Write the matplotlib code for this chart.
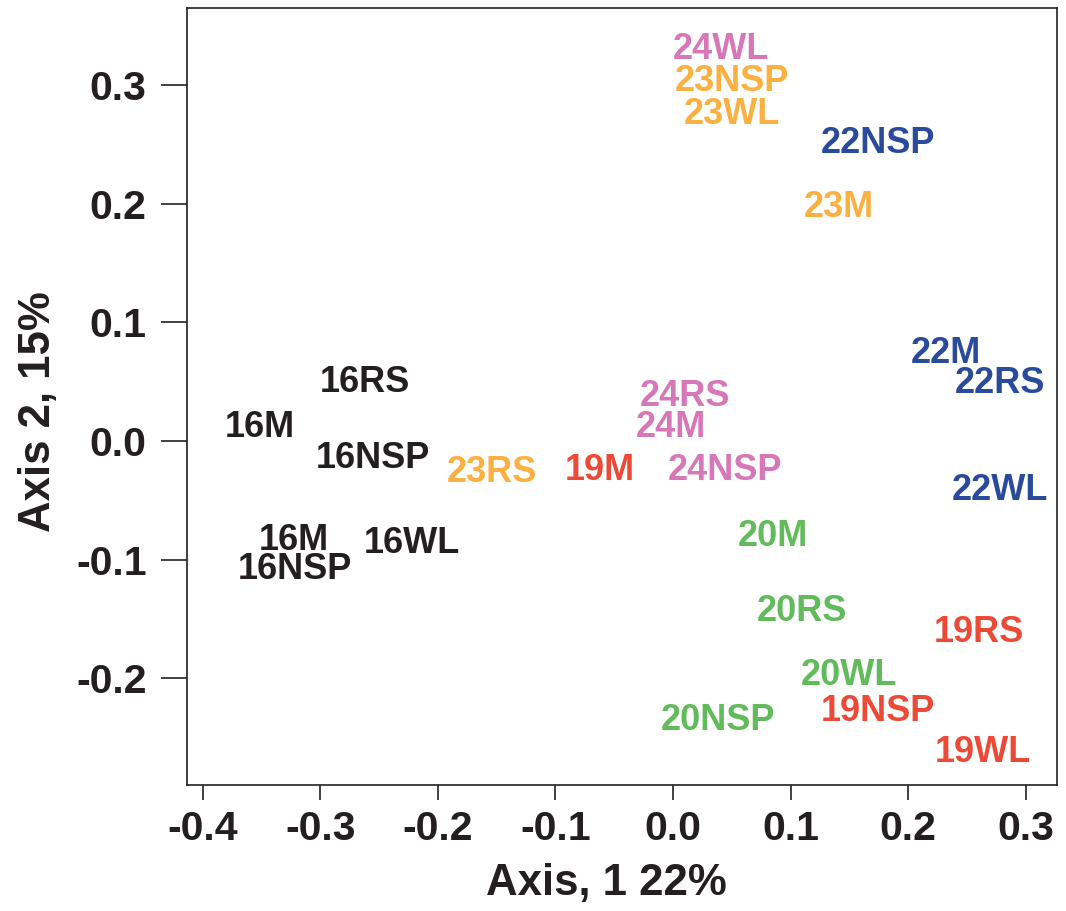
import matplotlib
matplotlib.use("Agg")
import matplotlib.pyplot as plt
from matplotlib.transforms import offset_copy

plt.rcParams['font.family'] = ['Liberation Sans', 'DejaVu Sans']
plt.rcParams['font.weight'] = 'bold'

# sample labels and their ordination scores (axis 1, axis 2)
labels = ["16RS", "16M", "16NSP", "16M", "16NSP", "16WL",
          "24WL", "23NSP", "23WL", "22NSP", "23M",
          "22M", "22RS", "22WL",
          "23RS", "19M", "24RS", "24M", "24NSP",
          "20M", "20RS", "19RS", "20WL", "19NSP", "20NSP", "19WL"]
axis1 = [-0.262, -0.352, -0.255, -0.323, -0.322, -0.222,
         0.041, 0.050, 0.050, 0.174, 0.141,
         0.232, 0.278, 0.278,
         -0.154, -0.062, 0.010, -0.002, 0.044,
         0.085, 0.110, 0.260, 0.150, 0.174, 0.038, 0.264]
axis2 = [0.052, 0.014, -0.012, -0.081, -0.106, -0.084,
         0.332, 0.305, 0.278, 0.253, 0.199,
         0.076, 0.051, -0.039,
         -0.024, -0.022, 0.040, 0.014, -0.022,
         -0.078, -0.141, -0.159, -0.195, -0.225, -0.233, -0.260]
groups = ["16"] * 6 + ["24", "23", "23", "22", "23"] + ["22"] * 3 + \
         ["23", "19", "24", "24", "24"] + ["20", "20", "19", "20", "19", "20", "19"]

colors = {"16": "#231f20", "19": "#ec4a36", "20": "#61bb5b",
          "22": "#2a4b9b", "23": "#fbb040", "24": "#d877b8"}

fig = plt.figure(figsize=(10.66, 9.11), dpi=100)
ax = fig.add_axes([0.1754, 0.1383, 0.8162, 0.8529])

# nudge so the cap height (not the full text box) is centred on the point
trans = offset_copy(ax.transData, fig=fig, x=0, y=-3, units='dots')
for lab, x, y, g in zip(labels, axis1, axis2, groups):
    ax.text(x, y, lab, color=colors[g], fontsize=26, fontweight='bold',
            ha='center', va='center', transform=trans)

ax.set_xlim(-0.4136, 0.3268)
ax.set_ylim(-0.2898, 0.3648)
ax.set_xticks([-0.4, -0.3, -0.2, -0.1, 0.0, 0.1, 0.2, 0.3])
ax.set_yticks([-0.2, -0.1, 0.0, 0.1, 0.2, 0.3])
ax.set_xticklabels(["-0.4", "-0.3", "-0.2", "-0.1", "0.0", "0.1", "0.2", "0.3"])
ax.set_yticklabels(["-0.2", "-0.1", "0.0", "0.1", "0.2", "0.3"])
ax.tick_params(axis='x', length=11, width=1.2, pad=7, labelsize=29.5, colors='#231f20')
ax.tick_params(axis='y', length=19, width=1.2, pad=10, labelsize=29.5, colors='#231f20')
for s in ax.spines.values():
    s.set_linewidth(1.2)
    s.set_color('#231f20')

ax.set_xlabel("Axis, 1 22%", fontsize=31.5, fontweight='bold', color='#231f20')
ax.set_ylabel("Axis 2, 15%", fontsize=31.5, fontweight='bold', color='#231f20')
ax.xaxis.set_label_coords(0.482, -0.101)
ax.yaxis.set_label_coords(-0.147, 0.481)

fig.savefig("out.png", dpi=100)
